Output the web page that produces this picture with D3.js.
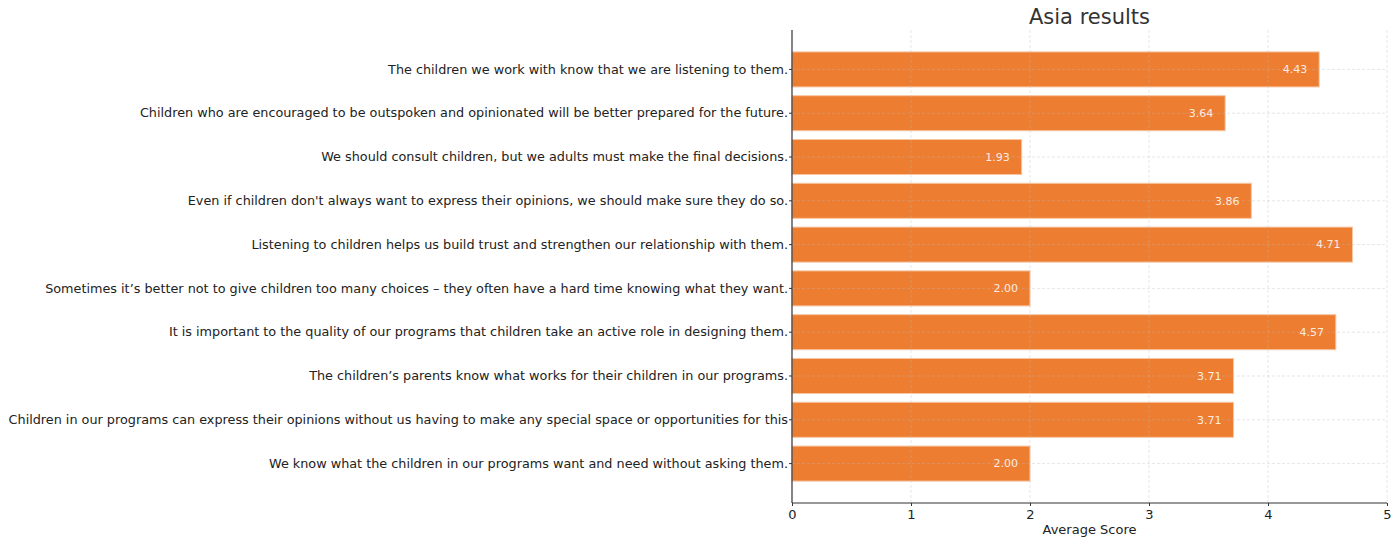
<!DOCTYPE html>
<html><head><meta charset="utf-8">
<script src="https://cdn.jsdelivr.net/npm/d3@7"></script>
<style>body{margin:0;background:#fff}svg{display:block}text{font-family:"DejaVu Sans",sans-serif}</style>
</head><body><svg id="c" width="1400" height="546"></svg>
<script>
const categories = [
 "The children we work with know that we are listening to them.",
 "Children who are encouraged to be outspoken and opinionated will be better prepared for the future.",
 "We should consult children, but we adults must make the final decisions.",
 "Even if children don't always want to express their opinions, we should make sure they do so.",
 "Listening to children helps us build trust and strengthen our relationship with them.",
 "Sometimes it\u2019s better not to give children too many choices \u2013 they often have a hard time knowing what they want.",
 "It is important to the quality of our programs that children take an active role in designing them.",
 "The children\u2019s parents know what works for their children in our programs.",
 "Children in our programs can express their opinions without us having to make any special space or opportunities for this",
 "We know what the children in our programs want and need without asking them."
];
const scores = [4.43, 3.64, 1.93, 3.86, 4.71, 2.00, 4.57, 3.71, 3.71, 2.00];
const xTicks = [0, 1, 2, 3, 4, 5];
const title = "Asia results";
const xLabel = "Average Score";

const svg = d3.select("#c");
const L = 792, R = 1387, T = 30, B = 503;
const x = d3.scaleLinear().domain([0, 5]).range([L, R]);
const y = d3.scaleBand().domain(categories).range([T, B]).paddingInner(0.2).paddingOuter(0.5);

// bars
svg.append("g").selectAll("rect").data(scores).join("rect")
  .attr("x", x(0)).attr("y", (d, i) => y(categories[i]))
  .attr("width", d => x(d) - x(0)).attr("height", y.bandwidth())
  .attr("fill", "#ED7D31").attr("stroke", "#f6c6a4").attr("stroke-width", 1);

// grid
const g = svg.append("g").attr("stroke", "#b8b8b8").attr("stroke-opacity", 0.45).attr("stroke-dasharray", "3,2").attr("stroke-width", 0.8);
g.selectAll(".gv").data(xTicks.slice(1)).join("line")
  .attr("x1", d => x(d)).attr("x2", d => x(d)).attr("y1", T).attr("y2", B);
g.selectAll(".gh").data(categories).join("line")
  .attr("x1", L).attr("x2", R).attr("y1", d => y(d) + y.bandwidth() / 2).attr("y2", d => y(d) + y.bandwidth() / 2);

// value labels
svg.append("g").selectAll("text").data(scores).join("text")
  .attr("x", d => x(d - 0.1)).attr("y", (d, i) => y(categories[i]) + y.bandwidth() / 2)
  .attr("dy", "0.35em").attr("text-anchor", "end").attr("font-size", 11)
  .attr("fill", "#fdebe0").text(d => d.toFixed(2));

// y axis
const ya = svg.append("g").attr("transform", `translate(${L},0)`)
  .call(d3.axisLeft(y).tickSize(3).tickPadding(3));
ya.select(".domain").attr("stroke", "#333").attr("stroke-width", 1.2).attr("d", `M0,${T}V${B}`);
ya.selectAll(".tick line").attr("stroke", "#333");
const yt = ya.selectAll(".tick text").attr("font-size", 13).attr("fill", "#222")
  .attr("font-family", "DejaVu Sans, sans-serif");
// compress labels horizontally so the longest fits the available width
let maxW = 0;
yt.each(function () { maxW = Math.max(maxW, this.getComputedTextLength()); });
const sx = 780 / maxW;
yt.attr("transform", `translate(-4,0) scale(${sx},1)`).attr("x", 0);

// x axis
const xa = svg.append("g").attr("transform", `translate(0,${B})`)
  .call(d3.axisBottom(x).tickValues(xTicks).tickFormat(d3.format("d")).tickSize(3).tickPadding(4));
xa.select(".domain").attr("stroke", "#333").attr("stroke-width", 1.2).attr("d", `M${L},0H${R}`);
xa.selectAll(".tick line").attr("stroke", "#333");
xa.selectAll(".tick text").attr("font-size", 13).attr("fill", "#222").attr("font-family", "DejaVu Sans, sans-serif");

svg.append("text").attr("x", (L + R) / 2).attr("y", 534).attr("text-anchor", "middle")
  .attr("font-size", 13).attr("fill", "#222").text(xLabel);
svg.append("text").attr("x", (L + R) / 2).attr("y", 24).attr("text-anchor", "middle")
  .attr("font-size", 21).attr("fill", "#333").text(title);
</script></body></html>
